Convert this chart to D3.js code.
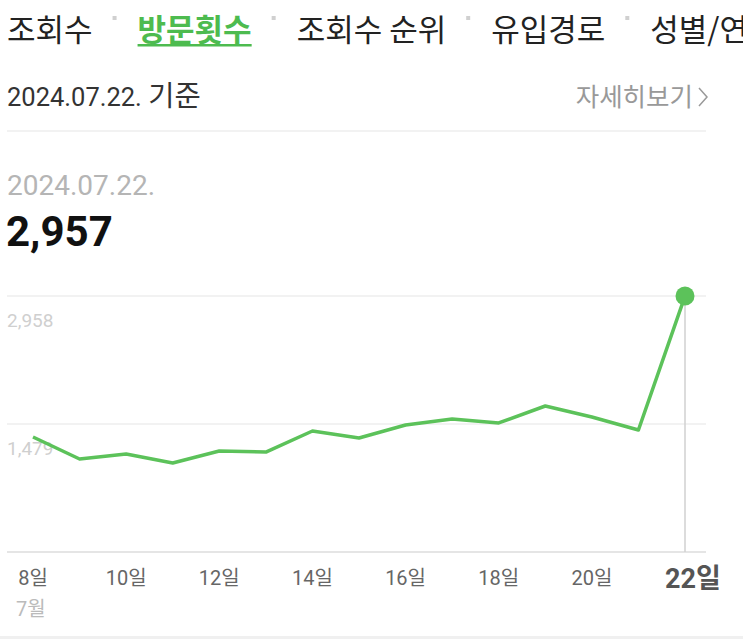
<!DOCTYPE html>
<html>
<head>
<meta charset="utf-8">
<script src="https://cdn.jsdelivr.net/npm/d3@7"></script>
<style>
  body { margin: 0; background: #fff; }
  svg { display: block; font-family: Roboto, "Noto Sans CJK KR", sans-serif; }
</style>
</head>
<body>
<svg id="chart"></svg>
<script>
var width = 743,
  height = 642;

// tabs across the top (last one runs off the screen, as in the capture)
var tabs = ['조회수', '방문횟수', '조회수 순위', '유입경로', '성별/연'];
var activeTab = 1;

var baseDate = '2024.07.22.';
var selectedValue = 2957;

// daily visits, July 8 - 22
var days = [8, 9, 10, 11, 12, 13, 14, 15, 16, 17, 18, 19, 20, 21, 22];
var visits = [1329, 1075, 1132, 1028, 1167, 1155, 1398, 1317, 1467, 1537, 1491, 1687, 1560, 1410, 2957];

var yTicks = [1479, 2958];
var xTicks = [8, 10, 12, 14, 16, 18, 20, 22];

var green = '#5cc25a';

var svg = d3.select('#chart')
  .attr('width', width)
  .attr('height', height);

svg.append('rect')
  .attr('width', width)
  .attr('height', height)
  .attr('fill', '#fff');

// tab bar
var tabX = 7;
tabs.forEach(function(t, i) {
  var txt = svg.append('text')
    .attr('x', tabX)
    .attr('y', 41)
    .attr('font-family', '"Noto Sans CJK KR", sans-serif')
    .attr('font-size', 31)
    .attr('font-weight', i === activeTab ? 700 : 400)
    .attr('fill', i === activeTab ? '#4dbb4f' : '#222')
    .text(t);
  var w = txt.node().getComputedTextLength();
  if (i === activeTab) {
    svg.append('rect')
      .attr('x', tabX)
      .attr('y', 44)
      .attr('width', w)
      .attr('height', 2.5)
      .attr('fill', '#4dbb4f');
  }
  if (i < tabs.length - 1) {
    svg.append('rect')
      .attr('x', tabX + w + 20)
      .attr('y', 16)
      .attr('width', 4)
      .attr('height', 4)
      .attr('fill', '#d0d0d0');
  }
  tabX += w + 45;
});

// header row
var head = svg.append('text')
  .attr('x', 7)
  .attr('y', 106)
  .attr('font-size', 25.5)
  .attr('fill', '#333');
head.append('tspan').text(baseDate + ' ');
head.append('tspan')
  .attr('font-family', '"Noto Sans CJK KR", sans-serif')
  .attr('font-size', 28.5)
  .text('기준');

svg.append('text')
  .attr('x', 693)
  .attr('y', 106)
  .attr('text-anchor', 'end')
  .attr('font-family', '"Noto Sans CJK KR", sans-serif')
  .attr('font-size', 25.5)
  .attr('fill', '#999')
  .text('자세히보기');

svg.append('path')
  .attr('d', 'M699,88 L707,97 L699,106')
  .attr('fill', 'none')
  .attr('stroke', '#999')
  .attr('stroke-width', 1.5);

svg.append('line')
  .attr('x1', 7).attr('x2', 706)
  .attr('y1', 131).attr('y2', 131)
  .attr('stroke', '#eee')
  .attr('stroke-width', 1.5);

// selected value
svg.append('text')
  .attr('x', 7)
  .attr('y', 195)
  .attr('font-size', 28)
  .attr('fill', '#b5b5b5')
  .text(baseDate);

svg.append('text')
  .attr('x', 6)
  .attr('y', 246)
  .attr('font-size', 42)
  .attr('font-weight', 700)
  .attr('fill', '#111')
  .text(d3.format(',')(selectedValue));

// chart
var x = d3.scaleLinear()
  .domain([8, 22])
  .range([33, 685]);

var y = d3.scaleLinear()
  .domain([0, 2958])
  .range([552, 296]);

var grid = svg.append('g');

grid.selectAll('line')
  .data(yTicks)
  .enter().append('line')
  .attr('x1', 7).attr('x2', 706)
  .attr('y1', function(d) { return y(d); })
  .attr('y2', function(d) { return y(d); })
  .attr('stroke', '#e6e6e6')
  .attr('stroke-width', 1.2);

grid.selectAll('text')
  .data(yTicks)
  .enter().append('text')
  .attr('x', 7)
  .attr('y', function(d) { return y(d) + 31; })
  .attr('font-size', 19)
  .attr('fill', '#cfcfcf')
  .text(function(d) { return d3.format(',')(d); });

svg.append('line')
  .attr('x1', 7).attr('x2', 706)
  .attr('y1', y(0)).attr('y2', y(0))
  .attr('stroke', '#dcdcdc')
  .attr('stroke-width', 1.5);

// marker for the selected day
svg.append('line')
  .attr('x1', x(22)).attr('x2', x(22))
  .attr('y1', y(selectedValue)).attr('y2', y(0))
  .attr('stroke', '#d0d0d0')
  .attr('stroke-width', 1.5);

var line = d3.line()
  .x(function(d, i) { return x(days[i]); })
  .y(function(d) { return y(d); });

svg.append('path')
  .datum(visits)
  .attr('d', line)
  .attr('fill', 'none')
  .attr('stroke', green)
  .attr('stroke-width', 3.5)
  .attr('stroke-linejoin', 'round');

svg.append('circle')
  .attr('cx', x(22))
  .attr('cy', y(selectedValue))
  .attr('r', 9.5)
  .attr('fill', green);

// x labels
svg.append('g')
  .selectAll('text')
  .data(xTicks)
  .enter().append('text')
  .attr('x', function(d) { return d === 22 ? x(d) + 8 : x(d); })
  .attr('y', function(d) { return d === 22 ? 588 : 585; })
  .attr('text-anchor', 'middle')
  .attr('font-size', function(d) { return d === 22 ? 27 : 20; })
  .attr('font-weight', function(d) { return d === 22 ? 700 : 400; })
  .attr('fill', function(d) { return d === 22 ? '#555' : '#666'; })
  .text(function(d) { return d + '일'; });

svg.append('text')
  .attr('x', 16)
  .attr('y', 616)
  .attr('font-size', 20)
  .attr('fill', '#bbb')
  .text('7월');

svg.append('rect')
  .attr('x', 0)
  .attr('y', 636)
  .attr('width', width)
  .attr('height', 3)
  .attr('fill', '#f0f0f0');
</script>
</body>
</html>
